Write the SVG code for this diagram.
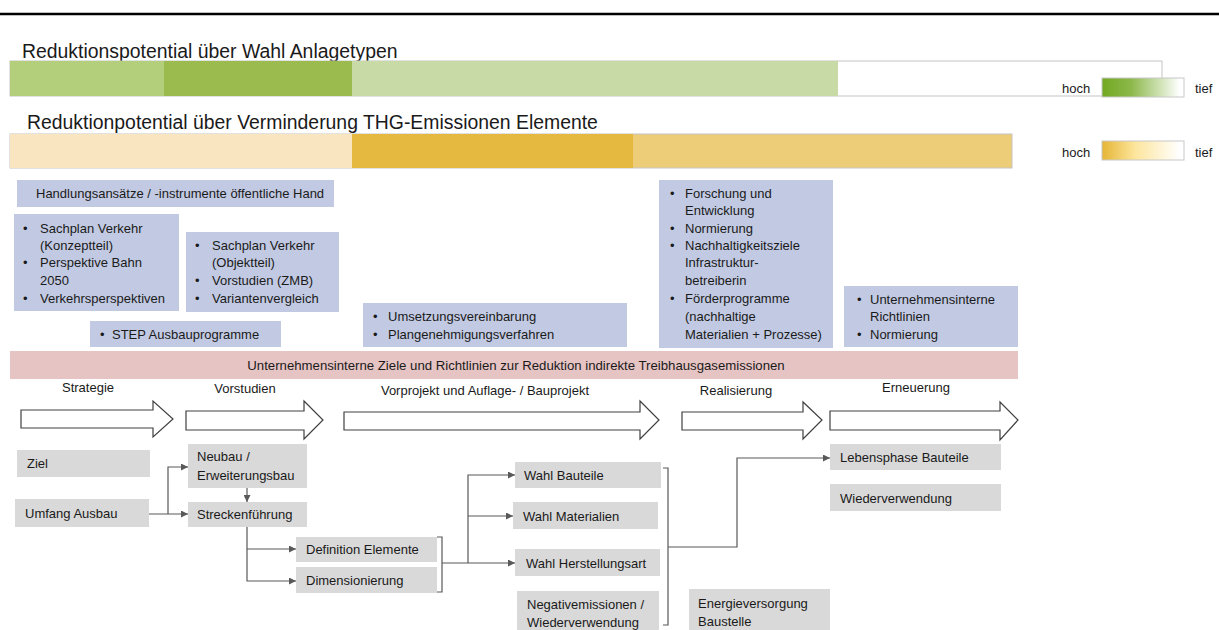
<svg xmlns="http://www.w3.org/2000/svg" width="1219" height="630" viewBox="0 0 1219 630">
<defs>
<linearGradient id="gGreen" x1="0" x2="1" y1="0" y2="0">
<stop offset="0" stop-color="#72a820"/><stop offset="0.35" stop-color="#8cb84a"/><stop offset="0.65" stop-color="#c4dba4"/><stop offset="0.95" stop-color="#ffffff"/>
</linearGradient>
<linearGradient id="gGold" x1="0" x2="1" y1="0" y2="0">
<stop offset="0" stop-color="#e5b535"/><stop offset="0.4" stop-color="#fde59c"/><stop offset="0.95" stop-color="#ffffff"/>
</linearGradient>
<marker id="ah" viewBox="0 0 10 10" refX="10" refY="5" markerWidth="7" markerHeight="7" markerUnits="userSpaceOnUse" orient="auto">
<path d="M0,0 L10,5 L0,10 z" fill="#595959"/>
</marker>
<style>
text{font-family:"Liberation Sans",Arial,sans-serif;fill:#1a1a1a;}
.t{font-size:19.4px;}
.s{font-size:13px;}
.p{font-size:13.2px;}
.blue{fill:#c2cae3;}
.gray{fill:#d9d9d9;}
.arr{fill:#ffffff;stroke:#404040;stroke-width:1.2;}
.con{fill:none;stroke:#595959;stroke-width:1.2;}
.bar{stroke:#c4c4c4;stroke-width:1;}
</style>
</defs>
<line x1="0" y1="14" x2="1219" y2="14" stroke="#000" stroke-width="2.5"/>
<g id="bar-anlagetypen">
<text class="t" x="22" y="58">Reduktionspotential über Wahl Anlagetypen</text>
<rect x="10" y="61" width="1152" height="35" fill="#ffffff" class="bar"/>
<rect x="10" y="61" width="154" height="35" fill="#b3cf7c"/>
<rect x="164" y="61" width="188" height="35" fill="#9bbb4f"/>
<rect x="352" y="61" width="486" height="35" fill="#c8daa5"/>
<text class="s" x="1062" y="93">hoch</text>
<rect x="1102" y="78" width="82" height="19" fill="url(#gGreen)" stroke="#c8c8c8" stroke-width="1"/>
<text class="s" x="1195" y="93">tief</text>
</g>
<g id="bar-elemente">
<text class="t" x="27" y="129">Reduktionpotential über Verminderung THG-Emissionen Elemente</text>
<rect x="10" y="134" width="1002" height="34" fill="#edcd78" class="bar"/>
<rect x="10" y="134" width="342" height="34" fill="#f9e5c0"/>
<rect x="352" y="134" width="281" height="34" fill="#e5b93f"/>
<text class="s" x="1062" y="157">hoch</text>
<rect x="1102" y="141" width="82" height="19" fill="url(#gGold)" stroke="#c8c8c8" stroke-width="1"/>
<text class="s" x="1195" y="157">tief</text>
</g>
<g id="heading">
<rect class="blue" x="17" y="180" width="317" height="27"/>
<text class="s" x="36" y="198">Handlungsansätze / -instrumente öffentliche Hand</text>
</g>
<g id="box-strategie">
<rect class="blue" x="14" y="214" width="165" height="97"/>
<text class="s" x="23" y="233">•</text><text class="s" x="40" y="233">Sachplan Verkehr</text>
<text class="s" x="40" y="250">(Konzeptteil)</text>
<text class="s" x="23" y="267">•</text><text class="s" x="40" y="267">Perspektive Bahn</text>
<text class="s" x="40" y="285">2050</text>
<text class="s" x="23" y="303">•</text><text class="s" x="40" y="303">Verkehrsperspektiven</text>
</g>
<g id="box-vorstudien">
<rect class="blue" x="186" y="232" width="153" height="80"/>
<text class="s" x="195" y="250">•</text><text class="s" x="212" y="250">Sachplan Verkehr</text>
<text class="s" x="212" y="267">(Objektteil)</text>
<text class="s" x="195" y="285">•</text><text class="s" x="212" y="285">Vorstudien (ZMB)</text>
<text class="s" x="195" y="303">•</text><text class="s" x="212" y="303">Variantenvergleich</text>
</g>
<g id="box-step">
<rect class="blue" x="90" y="321" width="191" height="26"/>
<text class="s" x="100" y="339">•</text><text class="s" x="112" y="339">STEP Ausbauprogramme</text>
</g>
<g id="box-vorprojekt">
<rect class="blue" x="363" y="303" width="264" height="44"/>
<text class="s" x="373" y="321">•</text><text class="s" x="388" y="321">Umsetzungsvereinbarung</text>
<text class="s" x="373" y="339">•</text><text class="s" x="388" y="339">Plangenehmigungsverfahren</text>
</g>
<g id="box-realisierung">
<rect class="blue" x="659" y="180" width="174" height="168"/>
<text class="s" x="670" y="198">•</text><text class="s" x="685" y="198">Forschung und</text>
<text class="s" x="685" y="215">Entwicklung</text>
<text class="s" x="670" y="233">•</text><text class="s" x="685" y="233">Normierung</text>
<text class="s" x="670" y="250">•</text><text class="s" x="685" y="250">Nachhaltigkeitsziele</text>
<text class="s" x="685" y="267">Infrastruktur-</text>
<text class="s" x="685" y="285">betreiberin</text>
<text class="s" x="670" y="303">•</text><text class="s" x="685" y="303">Förderprogramme</text>
<text class="s" x="685" y="321">(nachhaltige</text>
<text class="s" x="685" y="339">Materialien + Prozesse)</text>
</g>
<g id="box-erneuerung">
<rect class="blue" x="844" y="286" width="174" height="61"/>
<text class="s" x="857" y="304">•</text><text class="s" x="870" y="304">Unternehmensinterne</text>
<text class="s" x="870" y="321">Richtlinien</text>
<text class="s" x="857" y="339">•</text><text class="s" x="870" y="339">Normierung</text>
</g>
<g id="band">
<rect x="10" y="351" width="1008" height="28" fill="#e7c4c4"/>
<text class="p" x="516" y="370" text-anchor="middle">Unternehmensinterne Ziele und Richtlinien zur Reduktion indirekte Treibhausgasemissionen</text>
</g>
<g id="phases">
<text class="s" x="88" y="392" text-anchor="middle">Strategie</text>
<polygon class="arr" points="21,410 153,410 153,401 173,419 153,437 153,428 21,428"/>
<text class="s" x="245" y="393" text-anchor="middle">Vorstudien</text>
<polygon class="arr" points="186,411 304,411 304,401 323,420 304,439 304,430 186,430"/>
<text class="s" x="485" y="395" text-anchor="middle">Vorprojekt und Auflage- / Bauprojekt</text>
<polygon class="arr" points="344,412 640,412 640,401 659,420 640,439 640,430 344,430"/>
<text class="s" x="736" y="395" text-anchor="middle">Realisierung</text>
<polygon class="arr" points="682,412 803,412 803,402 822,420 803,439 803,430 682,430"/>
<text class="s" x="916" y="392" text-anchor="middle">Erneuerung</text>
<polygon class="arr" points="830,411 1000,411 1000,402 1018,420 1000,440 1000,430 830,430"/>
</g>
<g id="ziel"><rect class="gray" x="17" y="450" width="133" height="27"/><text class="s" x="27" y="468">Ziel</text></g>
<g id="umfang"><rect class="gray" x="15" y="499" width="134" height="28"/><text class="s" x="25" y="518">Umfang Ausbau</text></g>
<g id="neubau"><rect class="gray" x="188" y="444" width="119" height="44"/><text class="s" x="197" y="461">Neubau /</text><text class="s" x="197" y="480">Erweiterungsbau</text></g>
<g id="strecke"><rect class="gray" x="188" y="502" width="119" height="25"/><text class="s" x="197" y="519">Streckenführung</text></g>
<g id="definition"><rect class="gray" x="296" y="537" width="141" height="25"/><text class="s" x="306" y="554">Definition Elemente</text></g>
<g id="dimension"><rect class="gray" x="296" y="567" width="141" height="26"/><text class="s" x="306" y="585">Dimensionierung</text></g>
<g id="bauteile"><rect class="gray" x="515" y="462" width="146" height="26"/><text class="s" x="524" y="480">Wahl Bauteile</text></g>
<g id="materialien"><rect class="gray" x="513" y="502" width="145" height="27"/><text class="s" x="523" y="521">Wahl Materialien</text></g>
<g id="herstellung"><rect class="gray" x="515" y="549" width="145" height="27"/><text class="s" x="526" y="568">Wahl Herstellungsart</text></g>
<g id="negativ"><rect class="gray" x="517" y="591" width="142" height="40"/><text class="s" x="527" y="609">Negativemissionen /</text><text class="s" x="527" y="627">Wiederverwendung</text></g>
<g id="energie"><rect class="gray" x="689" y="589" width="141" height="42"/><text class="s" x="698" y="608">Energieversorgung</text><text class="s" x="698" y="626">Baustelle</text></g>
<g id="lebensphase"><rect class="gray" x="830" y="444" width="171" height="26"/><text class="s" x="840" y="462">Lebensphase Bauteile</text></g>
<g id="wiederverwendung"><rect class="gray" x="830" y="484" width="171" height="27"/><text class="s" x="840" y="503">Wiederverwendung</text></g>
<g id="connectors">
<path class="con" d="M149,514 H188" marker-end="url(#ah)"/>
<path class="con" d="M168,514 V467 H188" marker-end="url(#ah)"/>
<path class="con" d="M247,488 V502" marker-end="url(#ah)"/>
<path class="con" d="M247,527 V581 H296" marker-end="url(#ah)"/>
<path class="con" d="M247,549 H296" marker-end="url(#ah)"/>
<path class="con" d="M437,537 H442 V592 H437"/>
<path class="con" d="M442,563 H515" marker-end="url(#ah)"/>
<path class="con" d="M468,563 V475 H515" marker-end="url(#ah)"/>
<path class="con" d="M468,516 H513" marker-end="url(#ah)"/>
<path class="con" d="M663,468 H668 V625 H663"/>
<path class="con" d="M668,547 H737 V458 H830" marker-end="url(#ah)"/>
</g>
</svg>
